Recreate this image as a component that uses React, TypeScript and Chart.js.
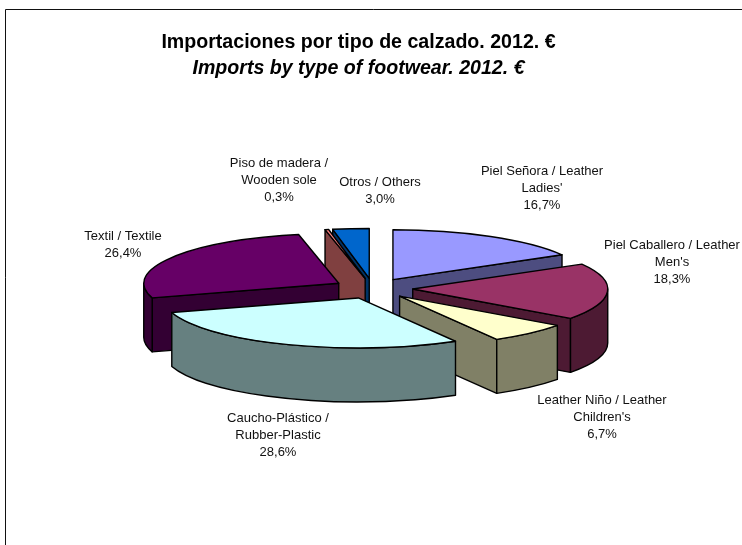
import React, { useEffect, useRef } from "react";
import { Chart, registerables } from "chart.js";

Chart.register(...registerables);

const titleLine = "Importaciones por tipo de calzado. 2012. €";
const subtitleLine = "Imports by type of footwear. 2012. €";
const categories = [
  ["Piel Señora / Leather", "Ladies'"],
  ["Piel Caballero / Leather", "Men's"],
  ["Leather Niño / Leather", "Children's"],
  ["Caucho-Plástico /", "Rubber-Plastic"],
  ["Textil / Textile"],
  ["Piso de madera /", "Wooden sole"],
  ["Otros / Others"],
];
const shares = [16.7, 18.3, 6.7, 28.6, 26.4, 0.3, 3.0];
const topColors = ["#9999FF", "#993366", "#FFFFCC", "#CCFFFF", "#660066", "#FF8080", "#0066CC"];
const sideColors = ["#4D4D80", "#4D1A33", "#808066", "#668080", "#330033", "#804040", "#003366"];

// label layout: centre x, first baseline y
const labelX = [542, 672, 602, 278, 123, 279, 380];
const labelY = [175, 249, 404, 422, 240, 167, 186];

const FONT = "'Liberation Sans', Arial, sans-serif";
const PIE_CX = 373;
const PIE_CY = 288.5;
const TILT = 0.256;
const DEPTH = 54;
const EXPLODE = 39.8;
const RADIUS = 195;
const LABEL_LINE = 17;

const pie3d = {
  id: "pie3d",
  beforeDraw(chart: any) {
    const { ctx, width, height } = chart;
    ctx.save();
    ctx.fillStyle = "#fff";
    ctx.fillRect(0, 0, width, height);
    ctx.strokeStyle = "#111";
    ctx.lineWidth = 1;
    ctx.beginPath();
    ctx.moveTo(5.5, height);
    ctx.lineTo(5.5, 9.5);
    ctx.lineTo(width, 9.5);
    ctx.stroke();
    ctx.restore();
  },
  beforeDatasetDraw(chart: any) {
    const { ctx } = chart;
    const arcs = chart.getDatasetMeta(0).data as any[];
    const order = arcs
      .map((arc, i) => ({ arc, i, mid: (arc.startAngle + arc.endAngle) / 2 }))
      .sort((a, b) => Math.sin(a.mid) - Math.sin(b.mid));
    ctx.save();
    ctx.lineWidth = 1.4;
    ctx.lineJoin = "round";
    ctx.strokeStyle = "#000";
    for (const { arc, i, mid } of order) {
      const R = arc.outerRadius;
      const cx = PIE_CX + Math.cos(mid) * EXPLODE;
      const cy = PIE_CY + Math.sin(mid) * EXPLODE * TILT;
      const s = arc.startAngle;
      const e = arc.endAngle;
      const paint = () => {
        ctx.fillStyle = sideColors[i];
        ctx.closePath();
        ctx.fill();
        ctx.stroke();
      };
      const radialWall = (a: number) => {
        const px = cx + Math.cos(a) * R;
        const py = cy + Math.sin(a) * R * TILT;
        ctx.beginPath();
        ctx.moveTo(cx, cy);
        ctx.lineTo(px, py);
        ctx.lineTo(px, py + DEPTH);
        ctx.lineTo(cx, cy + DEPTH);
        paint();
      };
      if (Math.cos(s) < -1e-6) radialWall(s);
      if (Math.cos(e) > 1e-6) radialWall(e);
      const a0 = Math.max(s, 0);
      const a1 = Math.min(e, Math.PI);
      if (a1 > a0) {
        ctx.beginPath();
        ctx.ellipse(cx, cy, R, R * TILT, 0, a0, a1);
        ctx.ellipse(cx, cy + DEPTH, R, R * TILT, 0, a1, a0, true);
        paint();
      }
      // top face through the library's own arc element
      ctx.save();
      ctx.translate(cx, cy);
      ctx.scale(1, TILT);
      ctx.translate(-arc.x, -arc.y);
      arc.draw(ctx);
      ctx.restore();
      ctx.beginPath();
      ctx.moveTo(cx, cy);
      ctx.ellipse(cx, cy, R, R * TILT, 0, s, e);
      ctx.closePath();
      ctx.stroke();
    }
    ctx.restore();
    return false;
  },
  afterDraw(chart: any) {
    const { ctx } = chart;
    ctx.save();
    ctx.font = `13px ${FONT}`;
    ctx.fillStyle = "#111";
    ctx.textAlign = "center";
    ctx.textBaseline = "alphabetic";
    categories.forEach((lines, i) => {
      const pct = shares[i].toFixed(1).replace(".", ",") + "%";
      [...lines, pct].forEach((t, j) => {
        ctx.fillText(t, labelX[i], labelY[i] + j * LABEL_LINE);
      });
    });
    ctx.restore();
  },
};

export default function App() {
  const ref = useRef<HTMLCanvasElement>(null);
  useEffect(() => {
    const chart = new Chart(ref.current as HTMLCanvasElement, {
      type: "pie",
      data: {
        labels: categories.map((c) => c.join(" ")),
        datasets: [
          {
            data: shares,
            backgroundColor: topColors,
            borderWidth: 0,
            clip: false,
          } as any,
        ],
      },
      options: {
        responsive: false,
        animation: false,
        radius: RADIUS,
        layout: { padding: { right: 25 } },
        plugins: {
          legend: { display: false },
          tooltip: { enabled: false },
          title: {
            display: true,
            text: titleLine,
            color: "#000",
            font: { family: FONT, size: 19.6, weight: "bold" },
            padding: { top: 31, bottom: 2 },
          },
          subtitle: {
            display: true,
            text: subtitleLine,
            color: "#000",
            font: { family: FONT, size: 19.6, weight: "bold", style: "italic" },
            padding: { top: 0, bottom: 0 },
          },
        },
      } as any,
      plugins: [pie3d as any],
    });
    return () => chart.destroy();
  }, []);
  return (
    <div style={{ position: "absolute", left: 0, top: 0, width: 742, height: 545, background: "#fff" }}>
      <canvas ref={ref} width={742} height={545} style={{ display: "block" }} />
    </div>
  );
}
